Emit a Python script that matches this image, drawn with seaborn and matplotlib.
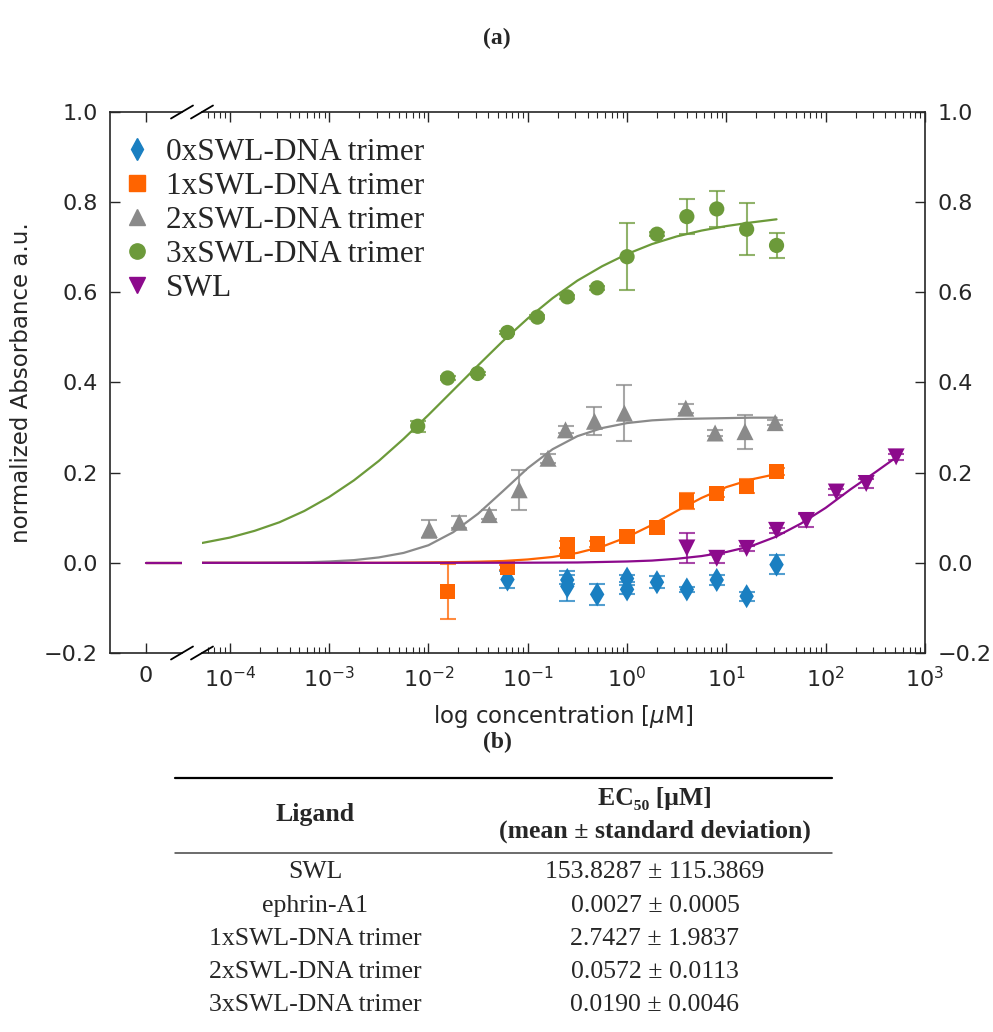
import numpy as np
import matplotlib
matplotlib.use("Agg")
import matplotlib.pyplot as plt
from matplotlib.lines import Line2D
import seaborn as sns

# measured points: concentration [uM], mean absorbance, sd
conc_0x = [0.0625, 0.25, 0.25, 0.5, 1, 1, 2, 4, 8, 16, 32]
mean_0x = [-0.037, -0.038, -0.052, -0.070, -0.035, -0.059, -0.043, -0.059, -0.038, -0.074, -0.004]
sd_0x = [0.018, 0.010, 0.033, 0.024, 0.008, 0.010, 0.013, 0.006, 0.012, 0.010, 0.021]

conc_1x = [0.0156, 0.0625, 0.25, 0.25, 0.5, 1, 2, 4, 8, 16, 32]
mean_1x = [-0.063, -0.011, 0.041, 0.026, 0.042, 0.059, 0.079, 0.137, 0.154, 0.170, 0.202]
sd_1x = [0.061, 0.006, 0.008, 0.006, 0.006, 0.005, 0.006, 0.018, 0.008, 0.015, 0.008]

conc_2x = [0.0102, 0.0204, 0.041, 0.082, 0.16, 0.24, 0.47, 0.94, 3.9, 7.7, 15.4, 31]
mean_2x = [0.074, 0.090, 0.107, 0.162, 0.232, 0.295, 0.314, 0.332, 0.343, 0.288, 0.291, 0.311]
sd_2x = [0.020, 0.013, 0.010, 0.045, 0.010, 0.008, 0.031, 0.062, 0.010, 0.006, 0.038, 0.006]

conc_3x = [0.0078, 0.0156, 0.03125, 0.0625, 0.125, 0.25, 0.5, 1, 2, 4, 8, 16, 32]
mean_3x = [0.303, 0.410, 0.420, 0.511, 0.545, 0.590, 0.610, 0.679, 0.729, 0.768, 0.785, 0.740, 0.704]
sd_3x = [0.012, 0.004, 0.004, 0.004, 0.004, 0.004, 0.004, 0.074, 0.004, 0.038, 0.039, 0.058, 0.028]

conc_swl = [4, 8, 16, 32, 64, 128, 256, 512]
mean_swl = [0.033, 0.010, 0.032, 0.072, 0.094, 0.157, 0.176, 0.235]
sd_swl = [0.033, 0.010, 0.006, 0.006, 0.015, 0.006, 0.010, 0.006]

# fitted curves (log10 concentration -> absorbance)
fit_logc = [-4.28, -4.0, -3.75, -3.5, -3.25, -3.0, -2.75, -2.5, -2.25, -2.0, -1.75, -1.5,
            -1.25, -1.0, -0.75, -0.5, -0.25, 0.0, 0.25, 0.5, 0.75, 1.0, 1.25, 1.505]
fit_1x = [0.0, 0.0, 0.0, 0.0, 0.0, 0.0, 0.0, 0.0, 0.0005, 0.001, 0.0015, 0.0025,
          0.004, 0.0075, 0.013, 0.022, 0.036, 0.057, 0.084, 0.115, 0.144, 0.168, 0.185, 0.197]
fit_2x = [0.0, 0.0, 0.0, 0.0005, 0.001, 0.003, 0.006, 0.012, 0.022, 0.039, 0.068, 0.109,
          0.159, 0.210, 0.252, 0.281, 0.299, 0.310, 0.316, 0.319, 0.320, 0.321, 0.322, 0.322]
fit_3x = [0.044, 0.056, 0.071, 0.090, 0.115, 0.146, 0.183, 0.226, 0.275, 0.328, 0.383, 0.438,
          0.492, 0.542, 0.587, 0.626, 0.658, 0.685, 0.707, 0.724, 0.737, 0.747, 0.755, 0.762]
fit_swl_logc = [-4.28, -3.0, -2.0, -1.0, -0.5, 0.0, 0.25, 0.5, 0.75, 1.0, 1.25, 1.5,
                1.75, 2.0, 2.25, 2.5, 2.71]
fit_swl = [0.0, 0.0, 0.0, 0.0003, 0.0008, 0.003, 0.005, 0.009, 0.015, 0.024, 0.037, 0.058,
           0.087, 0.122, 0.163, 0.201, 0.234]

# the "0" section left of the axis break
zero_x = [0, 1]
zero_y = [0, 0]

labels = ["0xSWL-DNA trimer", "1xSWL-DNA trimer", "2xSWL-DNA trimer", "3xSWL-DNA trimer", "SWL"]
colors = ["#1a7fc1", "#ff6400", "#8a8a8a", "#6c9a3a", "#8c0a8c"]
markers = ["d", "s", "^", "o", "v"]

# table (b)
ligands = ["SWL", "ephrin-A1", "1xSWL-DNA trimer", "2xSWL-DNA trimer", "3xSWL-DNA trimer"]
ec50 = ["153.8287 ± 115.3869", "0.0027 ± 0.0005", "2.7427 ± 1.9837",
        "0.0572 ± 0.0113", "0.0190 ± 0.0046"]

W, H = 993, 1032
sns.set_style("ticks")
plt.rcParams["font.family"] = ["DejaVu Sans"]
plt.rcParams["axes.linewidth"] = 1.2

fig = plt.figure(figsize=(W / 100, H / 100), dpi=100)


def fx(x):
    return x / W


def fy(y):
    return 1 - y / H


ax0 = fig.add_axes([fx(110), fy(653), 72 / W, 541 / H])
ax1 = fig.add_axes([fx(202), fy(653), 723 / W, 541 / H])
ax1.set_xscale("log")

series = [
    (conc_0x, mean_0x, sd_0x, None, None),
    (conc_1x, mean_1x, sd_1x, fit_logc, fit_1x),
    (conc_2x, mean_2x, sd_2x, fit_logc, fit_2x),
    (conc_3x, mean_3x, sd_3x, fit_logc, fit_3x),
    (conc_swl, mean_swl, sd_swl, fit_swl_logc, fit_swl),
]

for i, (cx, cy, sd, flx, fv) in enumerate(series):
    c = colors[i]
    if flx is not None:
        sns.lineplot(x=10 ** np.array(flx), y=fv, ax=ax1, color=c, lw=1.6,
                     sort=False, estimator=None, zorder=2 + i)
    ax1.errorbar(cx, cy, yerr=sd, fmt="none", ecolor=c, elinewidth=1.5,
                 capsize=5.5, capthick=1.5, alpha=0.75, zorder=2 + i)
    size = 150 if markers[i] in ("d", "^", "v") else 120
    sns.scatterplot(x=cx, y=cy, ax=ax1, marker=markers[i], s=size, color=c,
                    edgecolor="none", zorder=3 + i, legend=False)

for i in (1, 2, 4):
    sns.lineplot(x=zero_x, y=zero_y, ax=ax0, color=colors[i], lw=1.6,
                 sort=False, estimator=None)

yticks = [-0.2, 0.0, 0.2, 0.4, 0.6, 0.8, 1.0]
for ax in (ax0, ax1):
    ax.set_ylim(-0.2, 1.0)
    ax.set_yticks(yticks)
    ax.set_xlabel("")
    ax.set_ylabel("")

ax0.set_xlim(-1, 1)
ax0.set_xticks([0])
ax0.set_xticklabels(["0"])
ax0.spines["right"].set_visible(False)
ax0.tick_params(which="both", direction="in", top=True, right=False, labelsize=16,
                length=7, width=1, pad=9)
ax0.minorticks_off()

ax1.set_xlim(10 ** -4.28, 1e3)
ax1.spines["left"].set_visible(False)
ax1.tick_params(which="both", direction="in", top=True, left=False, labelleft=False,
                right=True, labelright=True, labelsize=16, pad=9)
ax1.tick_params(which="major", length=7, width=1)
ax1.tick_params(which="minor", length=4, width=0.8)

# break marks
for bx in (182, 202):
    for by in (112, 653):
        fig.add_artist(Line2D([fx(bx - 11), fx(bx + 11)], [fy(by + 6.5), fy(by - 6.5)],
                              color="black", lw=1.3, transform=fig.transFigure))

# legend
handles = [Line2D([], [], ls="none", marker=markers[i], color=colors[i], markersize=11)
           for i in range(5)]
fig.legend(handles, labels, loc="upper left", bbox_to_anchor=(fx(121), fy(138)),
           frameon=False, numpoints=1, handlelength=1.0, handletextpad=0.45,
           labelspacing=0.16, borderaxespad=0, borderpad=0,
           prop={"family": ["Liberation Serif"], "size": 22.5})

fig.text(fx(22), fy(383), "normalized Absorbance a.u.", rotation=90, ha="center",
         va="center", fontsize=16.5)
fig.text(fx(563), fy(717), r"log concentration [$\mu$M]", ha="center", va="center",
         fontsize=16.5)

serif = ["Liberation Serif", "DejaVu Serif"]
fig.text(fx(497), fy(38), "(a)", ha="center", va="center", fontsize=17,
         family=serif, weight="bold")
fig.text(fx(497), fy(742), "(b)", ha="center", va="center", fontsize=17,
         family=serif, weight="bold")

# table (b)
fig.add_artist(Line2D([fx(175), fx(832)], [fy(778), fy(778)], color="black", lw=1.6,
                      transform=fig.transFigure))
fig.add_artist(Line2D([fx(175), fx(832)], [fy(853), fy(853)], color="#444444", lw=1.1,
                      transform=fig.transFigure))
fs = 18.5
fig.text(fx(315), fy(815), "Ligand", ha="center", va="center", fontsize=fs,
         family=serif, weight="bold")
fig.text(fx(655), fy(798), "EC₅₀ [μM]", ha="center", va="center", fontsize=fs,
         family=serif, weight="bold")
fig.text(fx(655), fy(831), "(mean ± standard deviation)", ha="center", va="center",
         fontsize=fs, family=serif, weight="bold")
row_y = [872, 906, 939, 972, 1005]
for lig, val, ry in zip(ligands, ec50, row_y):
    fig.text(fx(315), fy(ry), lig, ha="center", va="center", fontsize=fs, family=serif)
    fig.text(fx(655), fy(ry), val, ha="center", va="center", fontsize=fs, family=serif)

fig.savefig("out.png", dpi=100)
